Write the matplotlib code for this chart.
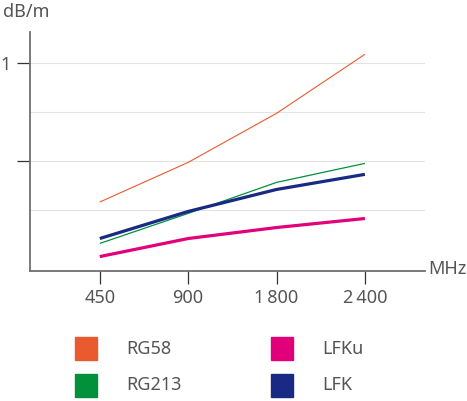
import matplotlib
matplotlib.use("Agg")
import matplotlib.pyplot as plt
from matplotlib.patches import Rectangle

plt.rcParams["font.family"] = ["Noto Sans", "DejaVu Sans"]

# frequencies (MHz) shown as evenly spaced categories
freq_labels = ["450", "900", "1\u2009800", "2\u2009400"]
x_pos = [0, 1, 2, 3]

# attenuation in dB/m (linear axis)
rg58 = [0.293, 0.495, 0.745, 1.046]
rg213 = [0.082, 0.235, 0.393, 0.490]
lfku = [0.015, 0.107, 0.163, 0.209]
lfk = [0.107, 0.245, 0.357, 0.434]

series_names = ["RG58", "RG213", "LFKu", "LFK"]
series_values = [rg58, rg213, lfku, lfk]
series_colors = ["#e95a2e", "#00913a", "#e2007a", "#182a84"]
series_widths = [0.8, 0.9, 2.3, 2.3]

grid_levels = [0.25, 0.5, 0.75, 1.0]

text_col = "#555555"
axis_col = "#6f6f6f"

fig = plt.figure(figsize=(4.67, 4.01), dpi=100)
ax = fig.add_axes([30 / 467, 1 - 270.5 / 401, 395 / 467, 238.2 / 401])

for lvl in grid_levels:
    ax.axhline(lvl, color="#e3e3e3", lw=0.8, zorder=0)

# draw thin lines first, then thick ones on top
for i in [1, 0, 2, 3]:
    ax.plot(x_pos, series_values[i], color=series_colors[i],
            lw=series_widths[i], solid_capstyle="butt", zorder=3)

ax.set_xlim(-0.79, 3.68)
ax.set_ylim(-0.056, 1.158)

ax.set_xticks(x_pos)
ax.set_xticklabels(freq_labels)
ax.set_yticks([0.5, 1.0])
ax.set_yticklabels(["", "1"])

for s in ["top", "right"]:
    ax.spines[s].set_visible(False)
for s in ["left", "bottom"]:
    ax.spines[s].set_color(axis_col)
    ax.spines[s].set_linewidth(1.3)

# lengths in points (1 pt = 1.39 px at 100 dpi)
ax.tick_params(axis="both", direction="out", length=9.3, width=0.9,
               color="#333333", labelcolor=text_col, labelsize=13)
ax.tick_params(axis="x", pad=4)
ax.tick_params(axis="y", pad=4.5)

fig.text(3 / 467, 1 - 12 / 401, "dB/m", color=text_col, fontsize=13,
         ha="left", va="center")
fig.text(428 / 467, 1 - 269 / 401, "MHz", color=text_col, fontsize=13,
         ha="left", va="center")

# legend: two columns of squares with labels
leg_x = [75, 75, 271, 271]
leg_y = [348.5, 385.5, 348.5, 385.5]
for name, col, lx, ly in zip(series_names, series_colors, leg_x, leg_y):
    fig.patches.append(Rectangle((lx / 467, 1 - (ly + 11.5) / 401),
                                 22 / 467, 23 / 401, color=col,
                                 transform=fig.transFigure))
    fig.text((lx + 51) / 467, 1 - ly / 401, name, color=text_col,
             fontsize=13, ha="left", va="center")

fig.savefig("out.png", dpi=100)
